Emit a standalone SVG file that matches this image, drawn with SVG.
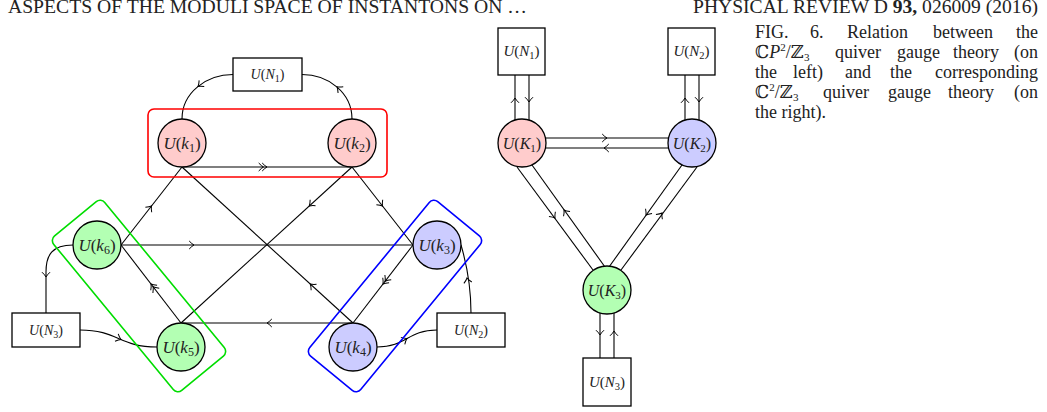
<svg xmlns="http://www.w3.org/2000/svg" xmlns:xlink="http://www.w3.org/1999/xlink" width="1047" height="412" viewBox="0 0 1047 412">
<style>
.c{stroke:#000;stroke-width:1.3}
.red{fill:#ffcccc}.blu{fill:#ccccff}.grn{fill:#b3ffb3}
.bx{fill:#fff;stroke:#000;stroke-width:1.3}
.e{fill:none;stroke:#000;stroke-width:1.1}
.ah{fill:none;stroke:#000;stroke-width:1}
.hl{fill:none;stroke-width:1.6}
.t{font-family:"Liberation Serif","DejaVu Serif",serif;text-anchor:middle;fill:#222}
.i{font-style:italic}
.cap{font-family:"Liberation Serif","DejaVu Serif",serif;font-size:18px;fill:#222}
</style>
<defs>
<path id="ah" class="ah" d="M-4.8,-4 Q-2,-1 0,0 Q-2,1 -4.8,4"/>
<path id="ah2" class="ah" d="M-4.8,-4 Q-2,-1 0,0 Q-2,1 -4.8,4 M-8.3,-4 Q-5.5,-1 -3.5,0 Q-5.5,1 -8.3,4"/>
</defs>
<rect width="1047" height="412" fill="#fff"/>

<g id="header">
<text class="cap" x="8" y="12.5" textLength="519" lengthAdjust="spacingAndGlyphs">ASPECTS OF THE MODULI SPACE OF INSTANTONS ON …</text>
<text class="cap" x="693" y="12.5" textLength="345" lengthAdjust="spacingAndGlyphs">PHYSICAL REVIEW D <tspan font-weight="bold">93,</tspan> 026009 (2016)</text>
</g>

<g id="caption" class="cap">
<text x="755" y="38">FIG.</text><text x="810" y="38">6.</text><text x="847" y="38">Relation</text><text x="933" y="38">between</text><text x="1038" y="38" text-anchor="end">the</text>
<text x="755" y="58">ℂ<tspan class="i">P</tspan><tspan font-size="11" dy="-7">2</tspan><tspan dy="7">/ℤ</tspan><tspan font-size="11" dy="3">3</tspan></text><text x="835" y="58">quiver</text><text x="897" y="58">gauge</text><text x="953" y="58">theory</text><text x="1038" y="58" text-anchor="end">(on</text>
<text x="755" y="78">the</text><text x="793" y="78">left)</text><text x="845" y="78">and</text><text x="890" y="78">the</text><text x="1038" y="78" text-anchor="end">corresponding</text>
<text x="755" y="98">ℂ<tspan font-size="11" dy="-7">2</tspan><tspan dy="7">/ℤ</tspan><tspan font-size="11" dy="3">3</tspan></text><text x="823" y="98">quiver</text><text x="888" y="98">gauge</text><text x="948" y="98">theory</text><text x="1038" y="98" text-anchor="end">(on</text>
<text x="755" y="118">the right).</text>
</g>

<g id="connectors">
<path class="e" d="M182,119 C182,92.5 206.5,74.5 233,74.5"/>
<path class="e" d="M352,119 C352,92.5 328,74.5 302,74.5"/>
<line class="e" x1="182" y1="167" x2="352" y2="167"/>
<line class="e" x1="182" y1="167" x2="121" y2="245"/>
<line class="e" x1="182" y1="167" x2="353" y2="323"/>
<line class="e" x1="352" y1="167" x2="181" y2="323"/>
<line class="e" x1="352" y1="167" x2="413" y2="245"/>
<line class="e" x1="121" y1="245" x2="413" y2="245"/>
<line class="e" x1="181" y1="323" x2="353" y2="323"/>
<line class="e" x1="181" y1="323" x2="121" y2="245"/>
<line class="e" x1="413" y1="245" x2="353" y2="323"/>
<path class="e" d="M73,245 C52,245 46,255 46,272 L46,313"/>
<path class="e" d="M80,330 C118,330 119,347 157,347"/>
<path class="e" d="M471,313 C471,285 466,262 461,245"/>
<path class="e" d="M377,347 C407,347 407,330 437,330"/>
<use xlink:href="#ah2" transform="translate(267,167)"/>
<use xlink:href="#ah" transform="translate(151.5,206) rotate(-52)"/>
<use xlink:href="#ah" transform="translate(310.3,284) rotate(-137.6)"/>
<use xlink:href="#ah" transform="translate(309.3,206) rotate(137.6)"/>
<use xlink:href="#ah" transform="translate(382.5,206) rotate(52)"/>
<use xlink:href="#ah" transform="translate(194,245)"/>
<use xlink:href="#ah" transform="translate(267,323) rotate(180)"/>
<use xlink:href="#ah2" transform="translate(151,284) rotate(-127.6)"/>
<use xlink:href="#ah2" transform="translate(383,284) rotate(127.6)"/>
<use xlink:href="#ah" transform="translate(198,86.5) rotate(140.4)"/>
<use xlink:href="#ah" transform="translate(337,86.8) rotate(-139.8)"/>
<use xlink:href="#ah" transform="translate(46,277) rotate(90)"/>
<use xlink:href="#ah" transform="translate(121,339.5) rotate(23.6)"/>
<use xlink:href="#ah" transform="translate(467,278) rotate(-100)"/>
<use xlink:href="#ah" transform="translate(407,338.5) rotate(-29.5)"/>
<line class="e" x1="515" y1="75" x2="515" y2="121"/>
<line class="e" x1="529" y1="75" x2="529" y2="121"/>
<line class="e" x1="685" y1="75" x2="685" y2="121"/>
<line class="e" x1="699" y1="75" x2="699" y2="121"/>
<line class="e" x1="545" y1="138" x2="669" y2="138"/>
<line class="e" x1="545" y1="148" x2="669" y2="148"/>
<line class="e" x1="517" y1="167" x2="593" y2="270"/>
<line class="e" x1="532" y1="165" x2="605" y2="267"/>
<line class="e" x1="682" y1="165" x2="609" y2="267"/>
<line class="e" x1="697" y1="167" x2="621" y2="270"/>
<line class="e" x1="600" y1="312" x2="600" y2="358"/>
<line class="e" x1="614" y1="312" x2="614" y2="358"/>
<use xlink:href="#ah" transform="translate(515,98) rotate(-90)"/>
<use xlink:href="#ah" transform="translate(529,102) rotate(90)"/>
<use xlink:href="#ah" transform="translate(685,98) rotate(-90)"/>
<use xlink:href="#ah" transform="translate(699,102) rotate(90)"/>
<use xlink:href="#ah" transform="translate(607,138)"/>
<use xlink:href="#ah" transform="translate(604,148) rotate(180)"/>
<use xlink:href="#ah" transform="translate(555,218) rotate(53.6)"/>
<use xlink:href="#ah" transform="translate(564,210) rotate(-125.6)"/>
<use xlink:href="#ah" transform="translate(646,215) rotate(125.6)"/>
<use xlink:href="#ah" transform="translate(662,213) rotate(-53.6)"/>
<use xlink:href="#ah" transform="translate(600,335) rotate(90)"/>
<use xlink:href="#ah" transform="translate(614,331) rotate(-90)"/>
</g>

<g id="groups">
<rect class="hl" stroke="#ff0000" x="148" y="109" width="239" height="68" rx="6"/>
<rect class="hl" stroke="#00dd00" x="-100" y="-33" width="200" height="66" rx="6" transform="translate(139 296) rotate(50.53)"/>
<rect class="hl" stroke="#0000ff" x="-100" y="-33" width="200" height="66" rx="6" transform="translate(395 296) rotate(-50.53)"/>
</g>

<g id="N1"><rect class="bx" x="233" y="58" width="69" height="33"/><text class="t" x="267.5" y="79" font-size="14"><tspan class="i">U</tspan>(<tspan class="i">N</tspan><tspan font-size="10" dy="3">1</tspan><tspan dy="-3">)</tspan></text></g>
<g id="N3"><rect class="bx" x="12" y="313" width="68" height="34"/><text class="t" x="46" y="335" font-size="14"><tspan class="i">U</tspan>(<tspan class="i">N</tspan><tspan font-size="10" dy="3">3</tspan><tspan dy="-3">)</tspan></text></g>
<g id="N2"><rect class="bx" x="437" y="313" width="68" height="34"/><text class="t" x="471" y="335" font-size="14"><tspan class="i">U</tspan>(<tspan class="i">N</tspan><tspan font-size="10" dy="3">2</tspan><tspan dy="-3">)</tspan></text></g>

<g id="k1"><circle class="c red" cx="182" cy="143" r="24"/><text class="t" x="182" y="149" font-size="17"><tspan class="i">U</tspan>(<tspan class="i">k</tspan><tspan font-size="12" dy="3">1</tspan><tspan dy="-3">)</tspan></text></g>
<g id="k2"><circle class="c red" cx="352" cy="143" r="24"/><text class="t" x="352" y="149" font-size="17"><tspan class="i">U</tspan>(<tspan class="i">k</tspan><tspan font-size="12" dy="3">2</tspan><tspan dy="-3">)</tspan></text></g>
<g id="k3"><circle class="c blu" cx="437" cy="245" r="24"/><text class="t" x="437" y="251" font-size="17"><tspan class="i">U</tspan>(<tspan class="i">k</tspan><tspan font-size="12" dy="3">3</tspan><tspan dy="-3">)</tspan></text></g>
<g id="k4"><circle class="c blu" cx="353" cy="347" r="24"/><text class="t" x="353" y="353" font-size="17"><tspan class="i">U</tspan>(<tspan class="i">k</tspan><tspan font-size="12" dy="3">4</tspan><tspan dy="-3">)</tspan></text></g>
<g id="k5"><circle class="c grn" cx="181" cy="347" r="24"/><text class="t" x="181" y="353" font-size="17"><tspan class="i">U</tspan>(<tspan class="i">k</tspan><tspan font-size="12" dy="3">5</tspan><tspan dy="-3">)</tspan></text></g>
<g id="k6"><circle class="c grn" cx="97" cy="245" r="24"/><text class="t" x="97" y="251" font-size="17"><tspan class="i">U</tspan>(<tspan class="i">k</tspan><tspan font-size="12" dy="3">6</tspan><tspan dy="-3">)</tspan></text></g>

<g id="RN1"><rect class="bx" x="498" y="28" width="47" height="47"/><text class="t" x="521.5" y="56" font-size="15"><tspan class="i">U</tspan>(<tspan class="i">N</tspan><tspan font-size="10.5" dy="3">1</tspan><tspan dy="-3">)</tspan></text></g>
<g id="RN2"><rect class="bx" x="668" y="28" width="47" height="47"/><text class="t" x="691.5" y="56" font-size="15"><tspan class="i">U</tspan>(<tspan class="i">N</tspan><tspan font-size="10.5" dy="3">2</tspan><tspan dy="-3">)</tspan></text></g>
<g id="RN3"><rect class="bx" x="583" y="358" width="48" height="48"/><text class="t" x="607" y="387" font-size="15"><tspan class="i">U</tspan>(<tspan class="i">N</tspan><tspan font-size="10.5" dy="3">3</tspan><tspan dy="-3">)</tspan></text></g>
<g id="K1"><circle class="c red" cx="522" cy="143" r="24"/><text class="t" x="522" y="149" font-size="16"><tspan class="i">U</tspan>(<tspan class="i">K</tspan><tspan font-size="11" dy="3">1</tspan><tspan dy="-3">)</tspan></text></g>
<g id="K2"><circle class="c blu" cx="692" cy="143" r="24"/><text class="t" x="692" y="149" font-size="16"><tspan class="i">U</tspan>(<tspan class="i">K</tspan><tspan font-size="11" dy="3">2</tspan><tspan dy="-3">)</tspan></text></g>
<g id="K3"><circle class="c grn" cx="607" cy="290" r="24"/><text class="t" x="607" y="296" font-size="16"><tspan class="i">U</tspan>(<tspan class="i">K</tspan><tspan font-size="11" dy="3">3</tspan><tspan dy="-3">)</tspan></text></g>
</svg>
